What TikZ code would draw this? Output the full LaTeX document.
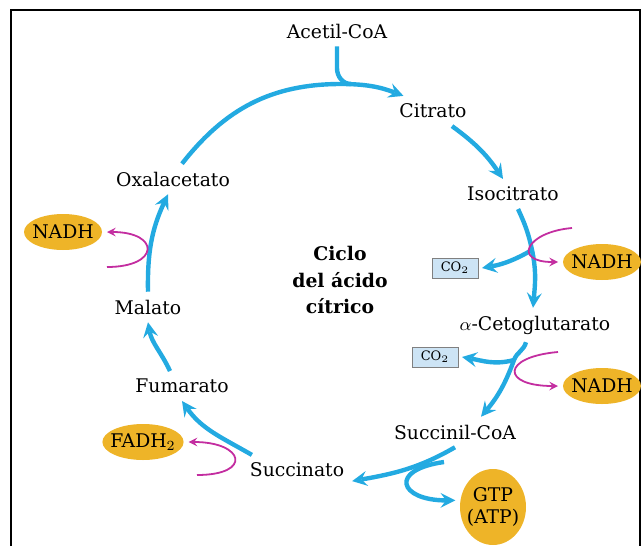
\documentclass[tikz,border=0pt]{standalone}
\usepackage{fontspec}
\setmainfont{DejaVu Serif}
\usetikzlibrary{shapes.geometric}
\definecolor{cycblue}{RGB}{35,170,225}
\definecolor{redox}{RGB}{195,45,160}
\definecolor{carrier}{RGB}{238,180,40}
\definecolor{gasfill}{RGB}{205,228,245}
\tikzset{
  metab/.style={inner sep=1pt,outer sep=3pt,font=\fontsize{9.4}{11}\selectfont},
  cycarrow/.style={draw=cycblue,line width=2.2pt,-stealth},
  cycline/.style={draw=cycblue,line width=2.2pt},
  redoxarrow/.style={draw=redox,line width=0.9pt,-stealth},
  carrierbox/.style={ellipse,fill=carrier,inner xsep=-2pt,inner ysep=0pt,outer sep=2.5pt,
    minimum width=39pt,minimum height=18pt,font=\fontsize{9.4}{11}\selectfont},
  gasbox/.style={rectangle,draw=gray,fill=gasfill,minimum width=23pt,minimum height=10pt,
    inner sep=0pt,outer sep=2pt,font=\fontsize{6.5}{8}\selectfont}
}
\begin{document}
\begin{tikzpicture}[x=0.5pt,y=-0.5pt]
  \useasboundingbox (0,0) rectangle (642,546);
  % draw frame
  \draw[line width=1pt] (11,546) -- (11,10) -- (640,10) -- (640,546);
  % draw metabolites of the cycle
  \node at(337,31)[metab](acetil){Acetil-CoA};
  \node at(433,111)[metab](citrato){Citrato};
  \node at(513,194)[metab](isocitrato){Isocitrato};
  \node at(535,325)[metab](ceto){$\alpha$-Cetoglutarato};
  \node at(455,432)[metab](succinil){Succinil-CoA};
  \node at(297,470)[metab](succinato){Succinato};
  \node at(182,386)[metab](fumarato){Fumarato};
  \node at(148,307)[metab](malato){Malato};
  \node at(173,179)[metab](oxal){Oxalacetato};
  % draw title in the middle
  \node at(340,280)[metab,align=center,font=\fontsize{9.4}{13.25}\selectfont\bfseries](titulo){Ciclo\\del ácido\\cítrico};
  % draw CO2 boxes
  \node at(455,268)[gasbox](co2A){CO$_2$};
  \node at(435,357)[gasbox](co2B){CO$_2$};
  % draw carrier ellipses
  \node at(63,232)[carrierbox](nadhL){NADH};
  \node at(602,262)[carrierbox](nadhA){NADH};
  \node at(602,386)[carrierbox](nadhB){NADH};
  \node at(143,442)[carrierbox](fadh){FADH$_2$};
  \node at(493,507)[carrierbox,inner xsep=-3pt,minimum width=33pt,minimum height=38pt,align=center](gtp){GTP\\(ATP)};
  % junctions and free ends
  \coordinate (jace) at (341,84);
  \coordinate (jiso) at (532,250);
  \coordinate (jceto) at (514,360);
  \coordinate (nadinA) at (572,228);
  \coordinate (nadinB) at (558,352);
  \coordinate (nadinL) at (107,267);
  \coordinate (fadin) at (197,475);
  \coordinate (gdpin) at (444,462);
  % draw arc from oxalacetato to citrato, with acetil-CoA coming in
  \draw[cycarrow] ([xshift=4.5pt]oxal.north) to[out=52,in=180] (jace) to[out=0,in=159] ([xshift=6pt]citrato.north west);
  \draw[cycline] (acetil.south) -- ++(0,22) to[out=-90,in=180] ([xshift=5pt]jace);
  % draw citrato to isocitrato
  \draw[cycarrow] ([xshift=9.5pt]citrato.south) to[out=-36,in=124] ([xshift=-5pt]isocitrato.north);
  % draw isocitrato to alpha-cetoglutarato, with CO2 and NADH
  \draw[cycarrow] ([xshift=2.5pt]isocitrato.south) to[out=-65,in=102] (jiso) to[out=-78,in=85] ([xshift=-1pt]ceto.north);
  \draw[cycarrow] (jiso) to[out=-150,in=10] (co2A.east);
  \draw[redoxarrow] (nadinA) to[out=185,in=180,looseness=3.2] (nadhA.west);
  % draw alpha-cetoglutarato to succinil-CoA, with CO2 and NADH
  \draw[cycarrow] ([xshift=-4.5pt]ceto.south) to[out=-104,in=70] (jceto) to[out=-110,in=50] ([xshift=13pt]succinil.north);
  \draw[cycarrow] (jceto) to[out=195,in=-10] (co2B.east);
  \draw[redoxarrow] (nadinB) to[out=185,in=180,looseness=4.3] (nadhB.west);
  % draw succinil-CoA to succinato, with GTP
  \draw[cycarrow] (succinil.south) to[out=-150,in=10] ([yshift=2pt]succinato.south east);
  \draw[cycarrow] (gdpin) to[out=188,in=180,looseness=3.6] (gtp.170);
  % draw succinato to fumarato, with FADH2
  \draw[cycarrow] ([xshift=5pt]succinato.north west) to[out=150,in=-55] (fumarato.south);
  \draw[redoxarrow] (fadin) to[out=0,in=0,looseness=4.2] (fadh.east);
  % draw fumarato to malato
  \draw[cycarrow] ([xshift=-6pt]fumarato.north) to[out=115,in=-80] (malato.south);
  % draw malato to oxalacetato, with NADH
  \draw[cycarrow] (malato.north) to[out=91,in=-115] ([xshift=-2.5pt]oxal.south);
  \draw[redoxarrow] (nadinL) to[out=0,in=0,looseness=3.9] (nadhL.east);
\end{tikzpicture}
\end{document}
